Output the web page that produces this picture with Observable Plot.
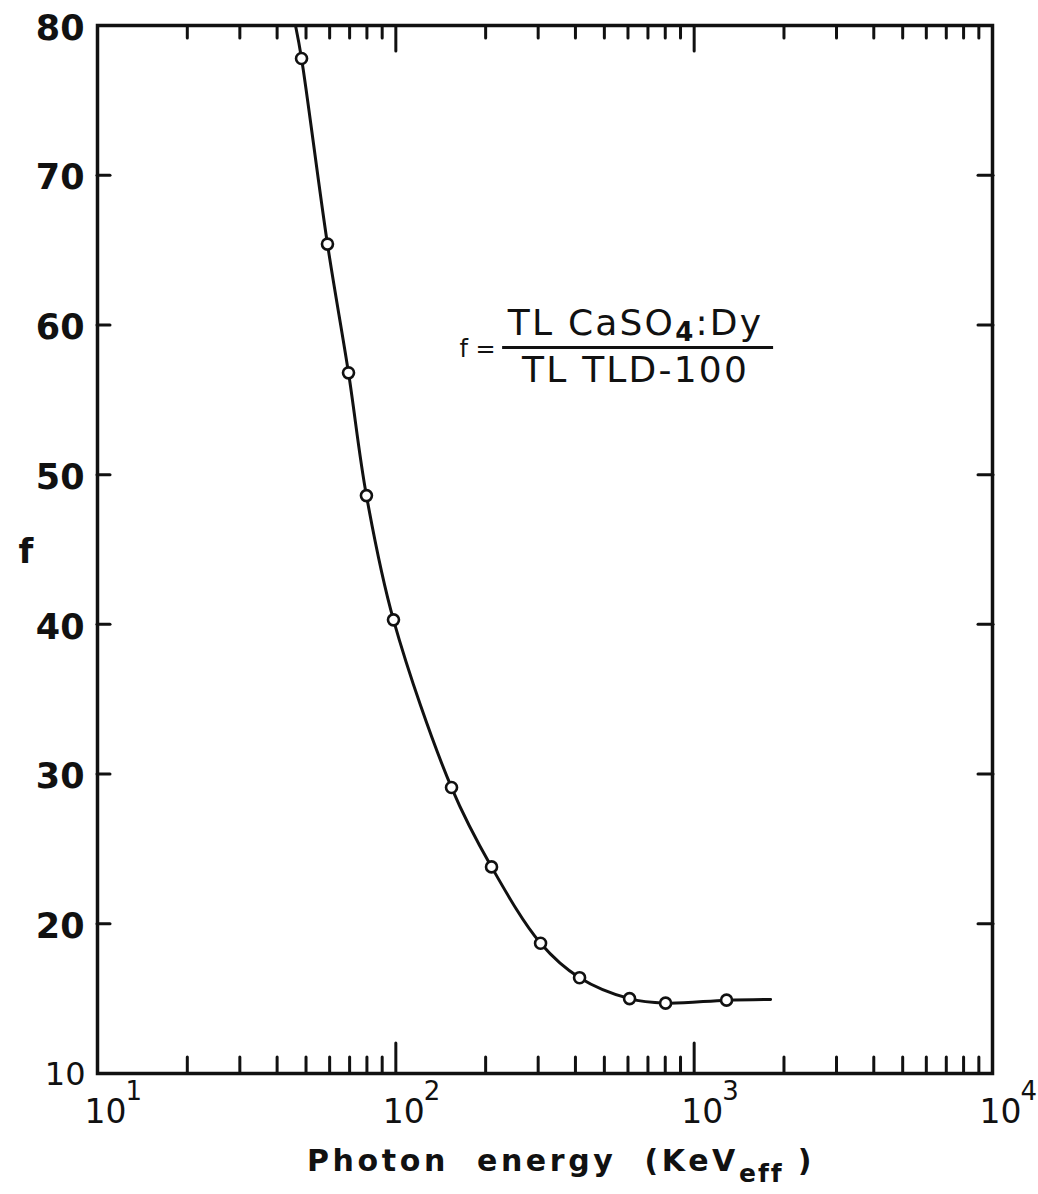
<!DOCTYPE html>
<html>
<head>
<meta charset="utf-8">
<script src="https://cdn.jsdelivr.net/npm/d3@7"></script>
<script src="https://cdn.jsdelivr.net/npm/@observablehq/plot@0.6"></script>
<style>
  html, body { margin: 0; padding: 0; background: #fff; }
  #title { width: 1038px; box-sizing: border-box; padding-left: 84px; text-align: center;
    font-family: "DejaVu Sans", sans-serif; font-weight: bold; font-size: 30px; letter-spacing: 3.6px;
    color: #111; line-height: 40px; margin-top: 6px; }
  #title sub { font-size: 25px; vertical-align: -11px; letter-spacing: 2px; }
</style>
</head>
<body>
<div id="chart"></div>
<div id="title">Photon&nbsp; energy&nbsp; (KeV<sub>eff</sub>&nbsp;)</div>
<script>
// Measured points (photon energy in keV, ratio f)
const energy = [48.3, 59.0, 69.4, 79.7, 98.2, 153.7, 209.3, 305.6, 412.9, 607.4, 802.0, 1284];
const fRatio = [77.8, 65.4, 56.8, 48.6, 40.3, 29.1, 23.8, 18.7, 16.4, 15.0, 14.7, 14.9];
// Smooth curve drawn through the points (with its ends)
const curveEnergy = [46.1, 48.3, 59.0, 69.4, 79.7, 98.2, 153.7, 209.3, 305.6, 412.9, 607.4, 802.0, 1284, 1804];
const curveF = [80, 77.8, 65.4, 56.8, 48.6, 40.3, 29.1, 23.8, 18.7, 16.4, 15.0, 14.7, 14.9, 14.95];
// Axis ticks
const xMajor = [10, 100, 1000, 10000];
const xMajorBase = ["10", "10", "10", "10"];
const xMajorExp = ["1", "2", "3", "4"];
const xMinor = [20, 30, 40, 50, 60, 70, 80, 90, 200, 300, 400, 500, 600, 700, 800, 900, 2000, 3000, 4000, 5000, 6000, 7000, 8000, 9000];
const yTicks = [20, 30, 40, 50, 60, 70];
const yLabelsBold = [20, 30, 40, 50, 60, 70, 80];
const yLabelsPlain = [10];
const numerator = ["TL CaSO", "4", ":Dy"];
const denominator = "TL TLD-100";

const pts = energy.map((e, i) => ({e, f: fRatio[i]}));
const curve = curveEnergy.map((e, i) => ({e, f: curveF[i]}));
const xLab = xMajor.map((v, i) => ({v, b: xMajorBase[i], p: xMajorExp[i]}));

const tickStyle = {strokeWidth: 3, strokeLinecap: "round", fill: "none", label: null, stroke: "#111"};
const font = "DejaVu Sans, sans-serif";

const chart = Plot.plot({
  width: 1038,
  height: 1135,
  marginTop: 25,
  marginLeft: 97,
  marginRight: 46,
  marginBottom: 62,
  x: {type: "log", domain: [10, 10000]},
  y: {domain: [10, 80]},
  style: {fontFamily: font, background: "#fff", color: "#111"},
  marks: [
    Plot.axisX(xMinor, {anchor: "bottom", tickSize: -16, ...tickStyle}),
    Plot.axisX(xMajor, {anchor: "bottom", tickSize: -30, ...tickStyle}),
    Plot.axisX(xMinor, {anchor: "top", tickSize: -12, ...tickStyle}),
    Plot.axisX(xMajor, {anchor: "top", tickSize: -25, ...tickStyle}),
    Plot.axisY(yTicks, {anchor: "left", tickSize: -13, ...tickStyle}),
    Plot.axisY(yTicks, {anchor: "right", tickSize: -15, ...tickStyle}),
    Plot.text(xLab, {x: "v", text: "b", frameAnchor: "bottom", lineAnchor: "top", dy: 26, dx: 8,
      fontSize: 33, fill: "#111"}),
    Plot.text(xLab, {x: "v", text: "p", frameAnchor: "bottom", lineAnchor: "top", textAnchor: "start",
      dy: 8, dx: 28, fontSize: 26, fill: "#111"}),
    Plot.axisY(yLabelsBold, {anchor: "left", tickSize: 0, tickPadding: 13, dy: 3,
      fontSize: 35, fontWeight: "bold", label: null, fill: "#111"}),
    Plot.axisY(yLabelsPlain, {anchor: "left", tickSize: 0, tickPadding: 12, dy: 1,
      fontSize: 32, label: null, fill: "#111"}),
    Plot.frame({stroke: "#111", strokeWidth: 3.5}),
    Plot.text(["f"], {frameAnchor: "left", dx: -79, dy: 3, fontSize: 34, fontWeight: "bold", fill: "#111"}),
    Plot.line(curve, {x: "e", y: "f", curve: "catmull-rom", stroke: "#111", strokeWidth: 3}),
    Plot.dot(pts, {x: "e", y: "f", r: 5.5, stroke: "#111", strokeWidth: 2.6, fill: "#fff"}),
    Plot.ruleY([58.5], {x1: 228, x2: 1846, stroke: "#111", strokeWidth: 3}),
    Plot.text([numerator.join("")], {x: 636, y: 58.5, lineAnchor: "bottom", dy: -12, fontSize: 36, fill: "#111"}),
    Plot.text([denominator], {x: 636, y: 58.5, lineAnchor: "top", dy: 9, fontSize: 36, fill: "#111"}),
    Plot.text(["f ="], {x: 216, y: 58.5, textAnchor: "end", dy: 2, fontSize: 24, fill: "#111"})
  ]
});
// letter spacing and subscript for the annotation texts
d3.select(chart).selectAll("text").each(function() {
  const el = d3.select(this);
  const t = this.textContent;
  if (t === denominator) el.attr("letter-spacing", "2.2px");
  if (t === numerator.join("")) {
    el.attr("letter-spacing", "2.2px").text(null);
    el.append("tspan").text(numerator[0]);
    el.append("tspan").attr("dy", 6).attr("font-size", 26).attr("font-weight", "bold").text(numerator[1]);
    el.append("tspan").attr("dy", -6).text(numerator[2]);
  }
});
document.getElementById("chart").append(chart);
</script>
</body>
</html>
